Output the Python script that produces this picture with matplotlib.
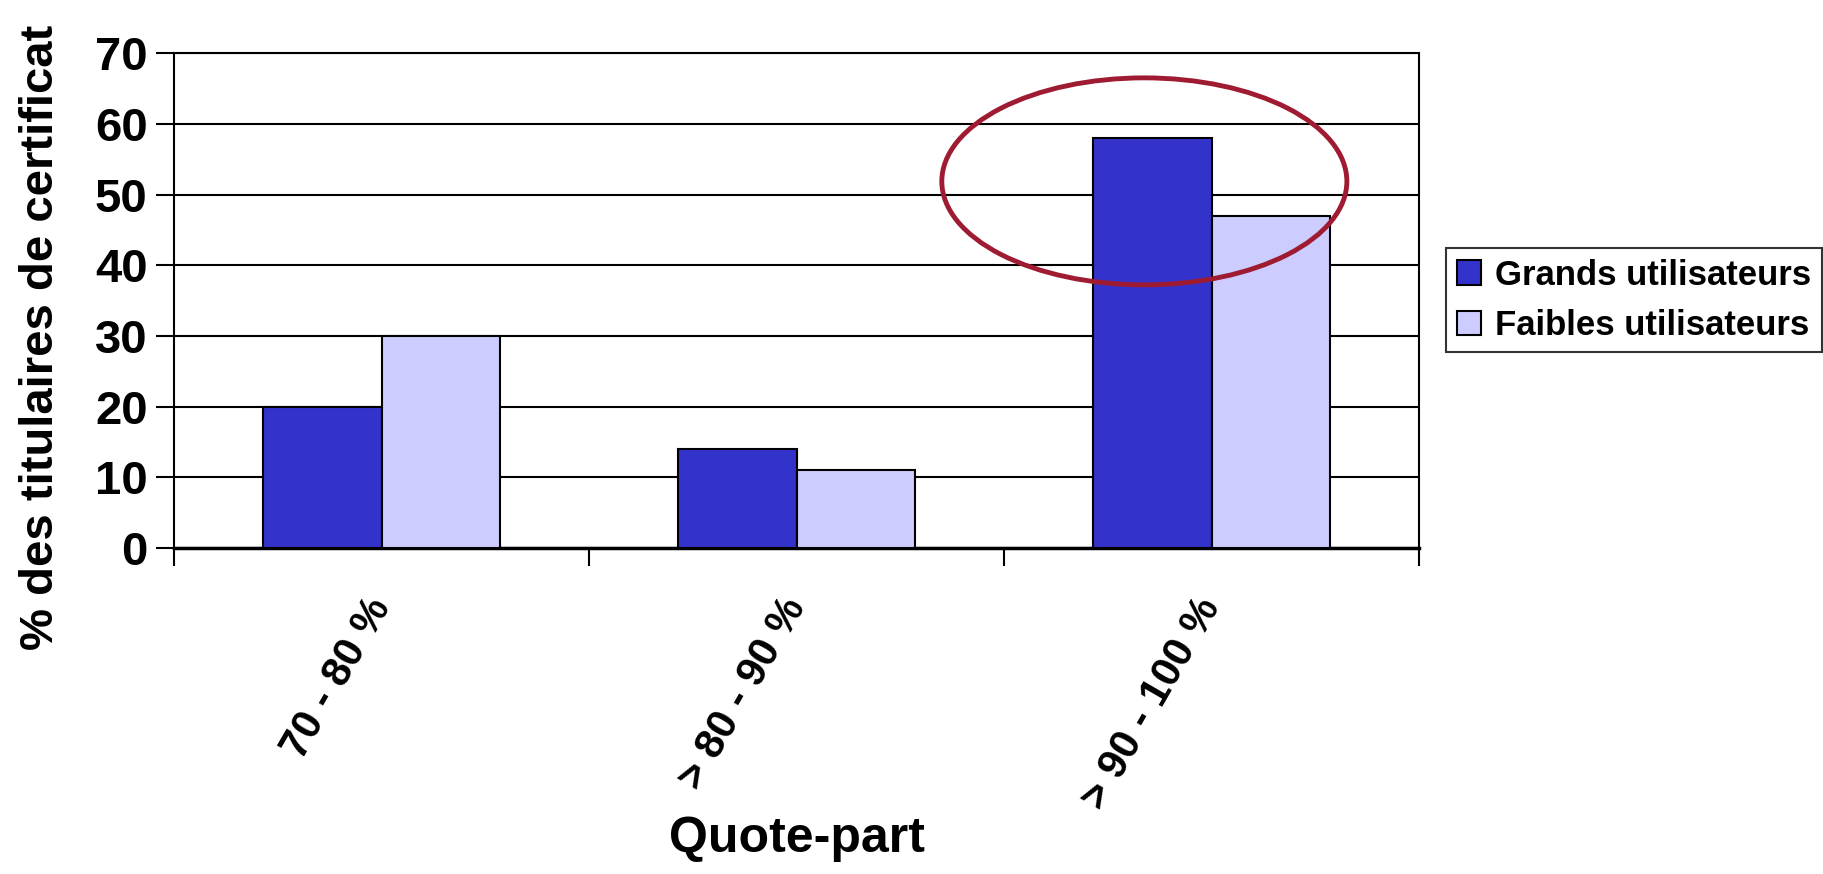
import numpy as np
import matplotlib
matplotlib.use("Agg")
from matplotlib import pyplot as plt
from matplotlib.patches import Ellipse, Patch

plt.rcParams['font.family'] = ['Liberation Sans', 'DejaVu Sans']
plt.rcParams['font.weight'] = 'bold'

# data
categories = ["70 - 80 %", "> 80 - 90 %", "> 90 - 100 %"]
grands = [20, 14, 58]
faibles = [30, 11, 47]
series_names = ["Grands utilisateurs", "Faibles utilisateurs"]
yticks = [0, 10, 20, 30, 40, 50, 60, 70]

c_grands = "#3333CC"
c_faibles = "#CCCCFF"
c_ring = "#9E1B32"

fig = plt.figure(figsize=(18.24, 8.74), dpi=100)
ax = fig.add_axes([0.0954, 0.373, 0.778 - 0.0954, 0.9388 - 0.373])

x = np.arange(len(categories))
w = 1 / 3.5   # excel gap width 150 %
ax.bar(x - w / 2, grands, w, color=c_grands, edgecolor="black", linewidth=1.5, zorder=3)
ax.bar(x + w / 2, faibles, w, color=c_faibles, edgecolor="black", linewidth=1.5, zorder=3)

ax.set_xlim(-0.5, len(categories) - 0.5)
ax.set_ylim(0, 70)
ax.set_yticks(yticks)
ax.set_yticklabels([str(v) for v in yticks], fontsize=34, fontweight="bold")
ax.yaxis.grid(True, color="black", linewidth=1.5, zorder=0)
ax.set_axisbelow(True)

# category labels at centres, tick marks at boundaries
ax.set_xticks(x)
ax.set_xticklabels(categories, fontsize=30, fontweight="bold", rotation=60,
                   ha="right", va="center", rotation_mode="anchor")
ax.tick_params(axis="x", which="major", length=0, pad=38)
ax.set_xticks(np.arange(len(categories) + 1) - 0.5, minor=True)
ax.tick_params(axis="x", which="minor", length=13, width=1.5, direction="out")
ax.tick_params(axis="y", length=13, width=1.5, direction="out", pad=6)

for s in ax.spines.values():
    s.set_color("black")
    s.set_linewidth(1.5)
ax.spines["bottom"].set_linewidth(2.5)

# highlight ring around the last group
ring = Ellipse((1.838, 51.9), 0.976, 29.3, fill=False, edgecolor=c_ring,
               linewidth=3.5, zorder=5, clip_on=False)
ax.add_patch(ring)

fig.text(0.0225, 0.614, "% des titulaires de certificat", rotation=90,
         ha="center", va="center", fontsize=34, fontweight="bold")
fig.text(0.437, 0.04, "Quote-part", ha="center", va="center",
         fontsize=36, fontweight="bold")

handles = [Patch(facecolor=c_grands, edgecolor="black", linewidth=1.5),
           Patch(facecolor=c_faibles, edgecolor="black", linewidth=1.5)]
leg = fig.legend(handles, series_names, loc="upper left",
                 bbox_to_anchor=(0.793, 0.716), fontsize=25, frameon=True,
                 fancybox=False, shadow=False, handlelength=0.7, handleheight=0.7,
                 handletextpad=0.4, borderpad=0.3, labelspacing=0.5,
                 borderaxespad=0)
leg.get_frame().set_edgecolor("black")
leg.get_frame().set_linewidth(1.5)
for t in leg.get_texts():
    t.set_fontweight("bold")

fig.savefig("out.png", dpi=100)
